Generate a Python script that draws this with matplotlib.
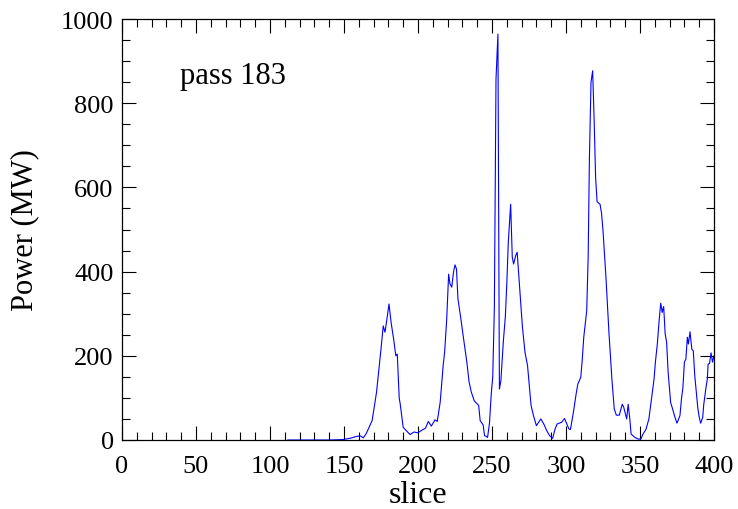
import matplotlib
matplotlib.use("Agg")
import matplotlib.pyplot as plt
from matplotlib.ticker import MultipleLocator

slices = [112, 120, 130, 140, 149, 154, 158, 161, 163, 165, 169, 172, 175, 176.5, 177.7, 179, 180.4, 181.8,
          183.8, 185, 186, 187.3, 188, 190, 194.6, 197.3, 200, 201, 205, 207, 209, 211.5, 213, 215, 217, 218,
          219.4, 220.7, 221.6, 222.8, 224, 225, 226, 227, 229, 230.5, 233, 234.5, 236, 238, 241, 242, 244,
          245, 246, 247, 248.3, 249.5, 250.5, 251.6, 252.7, 254, 255, 256, 257.7, 259, 260, 261, 262.6,
          263.7, 264.6, 266, 267, 269, 270.5, 272.3, 274, 276.4, 278, 280, 283, 285, 287, 289, 291, 292.6,
          294, 297, 299, 302, 303, 305, 307, 308, 310, 311, 312, 313, 314, 315, 315.8, 316.9, 318, 319,
          320, 321, 323, 324, 325, 327, 329, 331, 332.6, 334, 336, 338, 339, 341, 342, 343, 344, 346.6,
          349, 350.7, 352, 354, 356, 358, 359.5, 360.4, 361.7, 363, 364, 365, 366, 367, 368, 369, 370.7,
          372, 373.6, 375, 377, 378, 379, 380, 381, 382, 382.7, 383.8, 385, 386, 387, 389, 390, 391,
          392.4, 393, 394.6, 395.5, 396, 397, 398, 399, 400, 401]
power = [0, 0, 0, 0, 1, 4, 8, 10, 5, 15, 46, 114, 216, 271, 256, 287, 323, 280,
         233, 200, 204, 100, 85, 30, 13, 19, 17, 20, 28, 44, 33, 48, 44, 90, 177, 209,
         287, 394, 371, 363, 399, 416, 406, 335, 287, 248, 185, 138, 114, 93, 82, 46, 36,
         10, 9, 6, 40, 110, 150, 314, 857, 964, 121, 141, 236, 292, 371, 469, 560,
         434, 418, 438, 446, 347, 271, 208, 177, 82, 58, 34, 50, 38, 22, 10, 4, 26,
         38, 42, 51, 26, 25, 66, 113, 133, 149, 192, 244, 275, 307, 438, 667, 850, 877, 762,
         624, 566, 560, 539, 497, 386, 256, 145, 74, 59, 59, 85, 78, 50, 85, 54, 14, 6,
         2, 3, 14, 25, 50, 105, 145, 185, 228, 287, 325, 303, 317, 252, 232, 161, 89,
         74, 54, 40, 58, 97, 125, 185, 192, 244, 228, 257, 216, 212, 153, 78, 54, 40,
         54, 82, 125, 145, 180, 182, 207, 185, 200, 180]

x_ticks = [0, 50, 100, 150, 200, 250, 300, 350, 400]
y_ticks = [0, 200, 400, 600, 800, 1000]

plt.rcParams['font.family'] = ['Liberation Serif', 'DejaVu Serif']

fig = plt.figure(figsize=(7.38, 5.10), dpi=100)
ax = fig.add_axes([122/738, 69/510, 592/738, 421/510])
ax.plot(slices, power, color='#0000ff', linewidth=0.8)
ax.set_xlim(0, 400)
ax.set_ylim(0, 1000)
ax.set_xticks(x_ticks)
ax.set_yticks(y_ticks)
ax.xaxis.set_minor_locator(MultipleLocator(10))
ax.yaxis.set_minor_locator(MultipleLocator(50))
ax.tick_params(which='both', direction='in', top=True, right=True, labelsize=19)
ax.tick_params(axis='x', which='both', pad=11)
ax.tick_params(axis='y', which='both', pad=6)
ax.tick_params(which='major', length=10, width=0.8)
ax.tick_params(which='minor', length=5.5, width=0.8)
for s in ax.spines.values():
    s.set_linewidth(0.9)
ax.set_xlabel('slice', fontsize=23, labelpad=2)
ax.set_ylabel('Power (MW)', fontsize=22, labelpad=16)
ax.text(0.098, 0.865, 'pass 183', transform=ax.transAxes, fontsize=22, va='center', ha='left')
fig.savefig('out.png', dpi=100)
